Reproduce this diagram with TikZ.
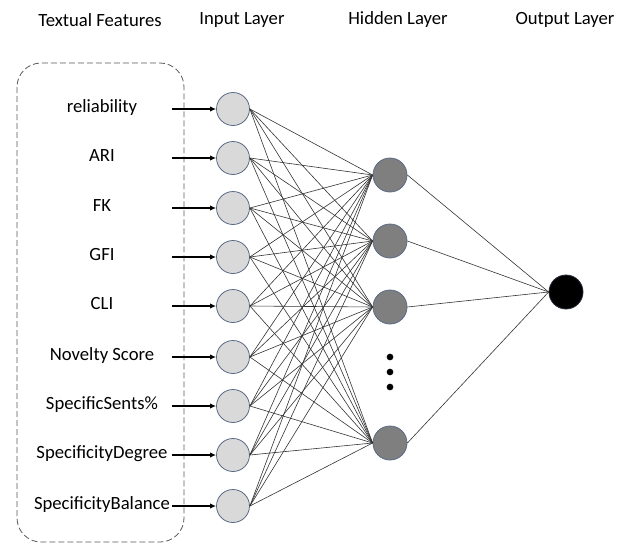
\documentclass[tikz,border=0pt]{standalone}
\usepackage{fontspec}
\setmainfont{Carlito}
\usetikzlibrary{positioning, arrows.meta}

\definecolor{inFill}{HTML}{D9D9D9}
\definecolor{hidFill}{HTML}{7F7F7F}
\definecolor{nodeRim}{HTML}{5A6A86}

\tikzset{
  innode/.style={circle, draw=nodeRim, fill=inFill, line width=0.6pt, minimum size=24.75pt, inner sep=0pt},
  hidnode/.style={circle, draw=nodeRim, fill=hidFill, line width=0.6pt, minimum size=25.5pt, inner sep=0pt},
  outnode/.style={circle, draw=nodeRim!40!black, fill=black, line width=0.6pt, minimum size=25.5pt, inner sep=0pt},
  feat/.style={font=\fontsize{14}{16}\selectfont, text height=1.6ex, text depth=.4ex},
  layertitle/.style={font=\fontsize{14}{16}\selectfont},
  wire/.style={draw=black!80, line width=0.45pt},
}

\begin{document}
\begin{tikzpicture}[x=0.75pt, y=-0.75pt]
\useasboundingbox (0,0) rectangle (628,543);

% titles
\node[layertitle] (tFeat) at (100,20) {Textual Features};
\node[layertitle] (tIn) at (242,20) {Input Layer};
\node[layertitle] (tHid) at (398,20) {Hidden Layer};
\node[layertitle] (tOut) at (565,20) {Output Layer};

% dashed box round the features
\draw[dashed, dash pattern=on 4.5pt off 2.25pt, draw=black!65, line width=0.6pt, rounded corners=18pt]
    (17,63) rectangle (184,542);

% features and input layer
\foreach \i/\y/\descr in {1/109/reliability, 2/158/ARI, 3/208/FK, 4/257/GFI, 5/306/CLI,
    6/357/Novelty Score, 7/406/SpecificSents\%, 8/455/SpecificityDegree, 9/506/SpecificityBalance}
{
\node[feat] (feat\i) at (102,\y) {\descr};
\node[innode] (in\i) at (233,\y) {};
\coordinate (s\i) at (172,\y);
\draw[line width=0.9pt, -{Latex[length=4.5pt,width=4pt]}] (s\i) -- (in\i.west);
}

% hidden layer
\foreach \j/\y in {1/175, 2/241, 3/307, 4/443}
\node[hidnode] (hid\j) at (390,\y) {};

% dots
\foreach \k/\y in {1/357, 2/372, 3/387}
\node[circle, fill=black, minimum size=5pt, inner sep=0pt] (dot\k) at (390,\y) {};

% output layer
\node[outnode] (out) at (566,292) {};

% connections
\foreach \i in {1,...,9}
\foreach \j in {1,...,4}
\draw[wire] (in\i.east) -- (hid\j.west);

\foreach \j in {1,...,4}
\draw[wire] (hid\j.east) -- (out.west);
\end{tikzpicture}
\end{document}
